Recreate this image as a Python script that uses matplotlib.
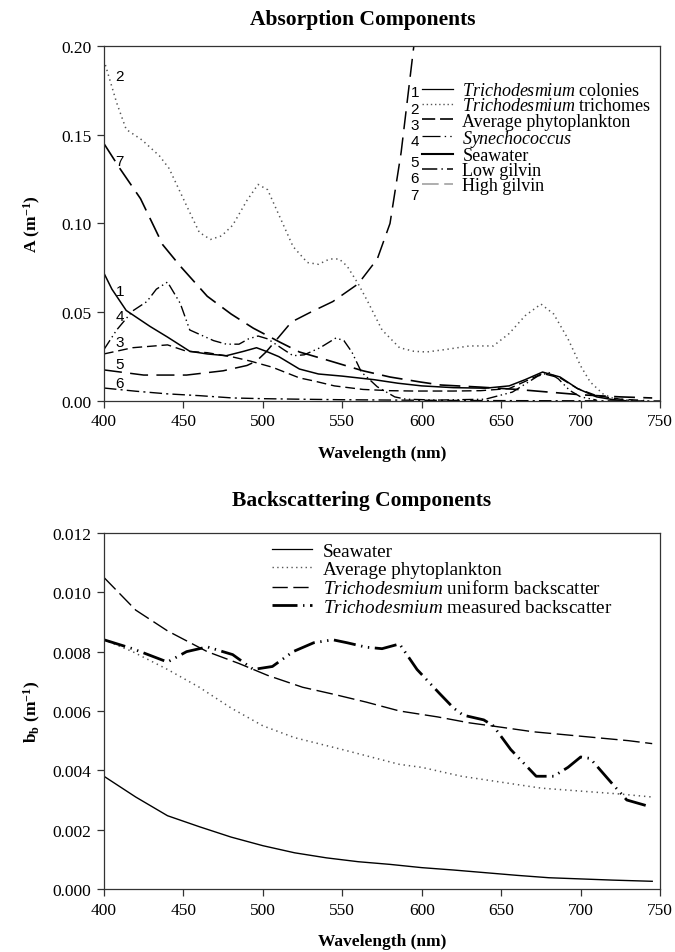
import matplotlib
matplotlib.use('Agg')
import matplotlib.pyplot as plt
from matplotlib.lines import Line2D
from matplotlib.ticker import FormatStrFormatter, MultipleLocator

plt.rcParams['font.family'] = ['Liberation Serif', 'DejaVu Serif']
plt.rcParams['lines.scale_dashes'] = False
plt.rcParams['mathtext.fontset'] = 'custom'
plt.rcParams['mathtext.rm'] = 'Liberation Serif'
plt.rcParams['mathtext.it'] = 'Liberation Serif:italic'
plt.rcParams['mathtext.bf'] = 'Liberation Serif:bold'

# ---------------- Absorption components ----------------
wl1 = [400, 405, 414, 429, 440, 454, 465, 477, 488, 496, 502, 510, 523, 535, 550, 570, 585, 600,
       620, 640, 655, 665, 676, 687, 698, 710, 720, 730]
a_colonies = [0.072, 0.063, 0.051, 0.042, 0.036, 0.028, 0.0265, 0.0255, 0.028, 0.030, 0.028, 0.025,
              0.018, 0.0152, 0.014, 0.012, 0.010, 0.0085, 0.0075, 0.0072, 0.0085, 0.012, 0.0163,
              0.0135, 0.007, 0.0023, 0.0008, 0.0]

wl2 = [400, 408, 414, 424, 435, 441, 452, 460, 467, 474, 481, 490, 497, 503, 510, 519, 528, 535,
       542, 548, 553, 560, 566, 575, 586, 595, 603, 615, 630, 645, 655, 665, 675, 683, 692, 700,
       706, 714, 720, 730, 740]
a_trichomes = [0.192, 0.168, 0.153, 0.147, 0.138, 0.131, 0.110, 0.095, 0.091, 0.093, 0.099, 0.113,
               0.122, 0.119, 0.105, 0.087, 0.078, 0.077, 0.080, 0.080, 0.076, 0.066, 0.056, 0.040,
               0.030, 0.028, 0.0276, 0.029, 0.031, 0.031, 0.038, 0.048, 0.0546, 0.049, 0.035,
               0.0197, 0.0107, 0.004, 0.0017, 0.0005, 0.0]

wl3 = [400, 418, 440, 452, 465, 481, 492, 506, 523, 532, 545, 563, 580, 595, 620, 637, 655, 665,
       676, 687, 698, 710, 725, 740]
a_avgphyto = [0.0265, 0.030, 0.0316, 0.028, 0.0272, 0.0248, 0.0225, 0.019, 0.013, 0.0113, 0.0085,
              0.0065, 0.0058, 0.0056, 0.0056, 0.0058, 0.007, 0.011, 0.0155, 0.013, 0.007, 0.003,
              0.001, 0.0003]

wl4 = [400, 408, 418, 427, 433, 440, 448, 454, 459, 469, 477, 485, 491, 497, 503, 513, 519, 526,
       536, 546, 551, 556, 562, 572, 583, 590, 610, 640, 657, 665, 673, 680, 686, 693, 700, 710]
a_synecho = [0.029, 0.040, 0.0507, 0.056, 0.063, 0.067, 0.055, 0.040, 0.038, 0.034, 0.032, 0.032,
             0.035, 0.0366, 0.035, 0.029, 0.0255, 0.026, 0.030, 0.0355, 0.034, 0.0276, 0.0163,
             0.008, 0.0023, 0.001, 0.0005, 0.001, 0.005, 0.0095, 0.0140, 0.016, 0.0124, 0.006,
             0.0023, 0.0005]

wl5 = [400, 425, 452, 475, 490, 496, 502, 510, 518, 530, 544, 560, 572, 580, 587, 595, 600]
a_seawater = [0.0175, 0.0146, 0.0146, 0.017, 0.020, 0.0225, 0.0276, 0.036, 0.0445, 0.050, 0.056,
              0.066, 0.080, 0.100, 0.140, 0.200, 0.240]

wl6 = [400, 420, 440, 460, 481, 500, 523, 550, 600, 650, 700, 750]
a_lowgilvin = [0.0073, 0.0055, 0.004, 0.003, 0.0017, 0.0013, 0.001, 0.0007, 0.0004, 0.0002,
               0.0001, 0.0]

wl7 = [400, 410, 423, 437, 448, 465, 480, 494, 511, 523, 538, 563, 580, 599, 612, 637, 660, 680,
       700, 725, 745]
a_highgilvin = [0.145, 0.131, 0.114, 0.088, 0.076, 0.059, 0.049, 0.041, 0.033, 0.0276, 0.0237,
                0.017, 0.0135, 0.0107, 0.009, 0.0078, 0.0065, 0.005, 0.0035, 0.0023, 0.0017]

abs_labels = [r'$\it{Trichodesmium}$ colonies', r'$\it{Trichodesmium}$ trichomes',
              'Average phytoplankton', r'$\it{Synechococcus}$', 'Seawater', 'Low gilvin',
              'High gilvin']
curve_numbers = ['1', '2', '3', '4', '5', '6', '7']

# ---------------- Backscattering components ----------------
wlb_sw = [400, 420, 440, 460, 480, 500, 520, 540, 560, 580, 600, 620, 640, 660, 680, 700, 720, 745]
b_seawater = [0.0038, 0.0031, 0.00247, 0.0021, 0.00175, 0.00146, 0.00122, 0.00105, 0.00092,
              0.00083, 0.00072, 0.00064, 0.00055, 0.00046, 0.00038, 0.00034, 0.0003, 0.00026]

wlb_ph = [400, 418, 440, 460, 480, 500, 520, 550, 586, 600, 625, 650, 675, 700, 725, 745]
b_avgphyto = [0.0084, 0.0080, 0.0074, 0.0068, 0.0061, 0.0055, 0.0051, 0.0047, 0.0042, 0.0041,
              0.0038, 0.0036, 0.0034, 0.0033, 0.0032, 0.0031]

wlb_un = [400, 420, 440, 465, 485, 503, 525, 544, 565, 586, 610, 630, 649, 670, 690, 710, 730, 745]
b_uniform = [0.0105, 0.0094, 0.0087, 0.0080, 0.0076, 0.0072, 0.0068, 0.00657, 0.0063, 0.0060,
             0.0058, 0.0056, 0.00546, 0.0053, 0.0052, 0.0051, 0.0050, 0.0049]

wlb_me = [400, 418, 440, 452, 465, 481, 494, 506, 519, 532, 544, 553, 565, 575, 586, 597, 611, 620,
          626, 639, 645, 656, 672, 683, 692, 700, 706, 719, 729, 742]
b_measured = [0.0084, 0.0081, 0.00765, 0.0080, 0.00816, 0.0079, 0.0074, 0.0075, 0.0080, 0.0083,
              0.0084, 0.0083, 0.00815, 0.0081, 0.00826, 0.0074, 0.0066, 0.0061, 0.00586, 0.0057,
              0.0055, 0.0047, 0.0038, 0.0038, 0.0041, 0.00445, 0.0044, 0.0036, 0.0030, 0.0028]

bs_labels = ['Seawater', 'Average phytoplankton', r'$\it{Trichodesmium}$ uniform backscatter',
             r'$\it{Trichodesmium}$ measured backscatter']

x_ticks = [400, 450, 500, 550, 600, 650, 700, 750]

# ---------------- Figure ----------------
fig = plt.figure(figsize=(6.75, 9.53), dpi=100)
ax1 = fig.add_axes([0.154, 0.5782, 0.824, 0.3725])
ax2 = fig.add_axes([0.154, 0.0661, 0.824, 0.3736])

def style_axes(ax):
    for s in ax.spines.values():
        s.set_linewidth(0.9)
        s.set_color('#333333')
    ax.tick_params(direction='out', length=5, width=0.9, labelsize=12.5, pad=4, color='#333333')
    ax.set_xlim(400, 750)
    ax.set_xticks(x_ticks)

# Absorption curves
ax1.plot(wl1, a_colonies, color='black', lw=1.1)
ax1.plot(wl2, a_trichomes, color='#555555', lw=1.1, dashes=(1.0, 2.6))
ax1.plot(wl3, a_avgphyto, color='black', lw=1.0, dashes=(7, 3.5))
ax1.plot(wl4, a_synecho, color='black', lw=1.0, dashes=(8, 2.5, 1, 2.5, 1, 2.5))
ax1.plot(wl5, a_seawater, color='black', lw=1.1, dashes=(13, 6))
ax1.plot(wl6, a_lowgilvin, color='black', lw=1.0, dashes=(9, 3, 1.5, 3))
ax1.plot(wl7, a_highgilvin, color='black', lw=1.2, dashes=(15, 6))

style_axes(ax1)
ax1.set_ylim(0, 0.2)
ax1.yaxis.set_major_locator(MultipleLocator(0.05))
ax1.yaxis.set_major_formatter(FormatStrFormatter('%.2f'))
ax1.set_xlabel('Wavelength (nm)', fontsize=12.5, fontweight='bold')
ax1.xaxis.set_label_coords(0.5, -0.123)
ax1.set_ylabel(r'A (m$^{\mathbf{-1}}$)', fontsize=12.5, fontweight='bold')
ax1.yaxis.set_label_coords(-0.110, 0.5)

# numbers next to curves near the left axis
num_pos = [(410, 0.062), (410, 0.183), (410, 0.033), (410, 0.048), (410, 0.021), (410, 0.010),
           (410, 0.135)]
for n, (xx, yy) in zip(curve_numbers, num_pos):
    ax1.text(xx, yy, n, fontsize=11, family=['Liberation Sans', 'DejaVu Sans'],
             ha='center', va='center')

legend_handles = [
    Line2D([], [], color='black', lw=0.9),
    Line2D([], [], color='#555555', lw=1.0, dashes=(1.0, 2.0)),
    Line2D([], [], color='black', lw=1.2, dashes=(9.5, 3.5)),
    Line2D([], [], color='black', lw=0.9, dashes=(13, 3, 1, 3, 1, 3)),
    Line2D([], [], color='black', lw=1.5),
    Line2D([], [], color='black', lw=1.1, dashes=(11, 3, 1, 3, 5, 3)),
    Line2D([], [], color='#999999', lw=1.1, dashes=(12, 4)),
]
leg1 = ax1.legend(legend_handles, abs_labels, loc='upper left', bbox_to_anchor=(0.572, 0.898),
                  frameon=False, fontsize=13, handlelength=1.7, handletextpad=0.53,
                  labelspacing=-0.1, borderpad=0, borderaxespad=0)

leg_num_y = [0.870, 0.822, 0.777, 0.732, 0.672, 0.627, 0.580]
for n, yy in zip(curve_numbers, leg_num_y):
    ax1.text(0.559, yy, n, transform=ax1.transAxes, fontsize=11,
             family=['Liberation Sans', 'DejaVu Sans'], ha='center', va='center')

# Backscattering curves
ax2.plot(wlb_sw, b_seawater, color='black', lw=1.0)
ax2.plot(wlb_ph, b_avgphyto, color='#555555', lw=1.1, dashes=(1.0, 2.8))
ax2.plot(wlb_un, b_uniform, color='black', lw=1.0, dashes=(12, 4))
ax2.plot(wlb_me, b_measured, color='black', lw=2.0, dashes=(16, 4, 1, 4, 1, 4))

style_axes(ax2)
ax2.set_ylim(0, 0.012)
ax2.yaxis.set_major_locator(MultipleLocator(0.002))
ax2.yaxis.set_major_formatter(FormatStrFormatter('%.3f'))
ax2.set_xlabel('Wavelength (nm)', fontsize=12.5, fontweight='bold')
ax2.xaxis.set_label_coords(0.5, -0.123)
ax2.set_ylabel(r'b$_{\mathbf{b}}$ (m$^{\mathbf{-1}}$)', fontsize=12.5, fontweight='bold')
ax2.yaxis.set_label_coords(-0.110, 0.5)

bs_handles = [
    Line2D([], [], color='black', lw=0.9),
    Line2D([], [], color='#555555', lw=1.0, dashes=(1.0, 2.4)),
    Line2D([], [], color='black', lw=1.0, dashes=(11, 4)),
    Line2D([], [], color='black', lw=2.0, dashes=(18, 4, 1, 4)),
]
leg2 = ax2.legend(bs_handles, bs_labels, loc='upper left', bbox_to_anchor=(0.302, 0.974),
                  frameon=False, fontsize=13.8, handlelength=2.08, handletextpad=0.57,
                  labelspacing=0.06, borderpad=0, borderaxespad=0)

fig.text(0.538, 0.979, 'Absorption Components', ha='center', va='center',
         fontsize=15.5, fontweight='bold')
fig.text(0.535, 0.474, 'Backscattering Components', ha='center', va='center',
         fontsize=15.5, fontweight='bold')

fig.savefig('out.png', dpi=100)
